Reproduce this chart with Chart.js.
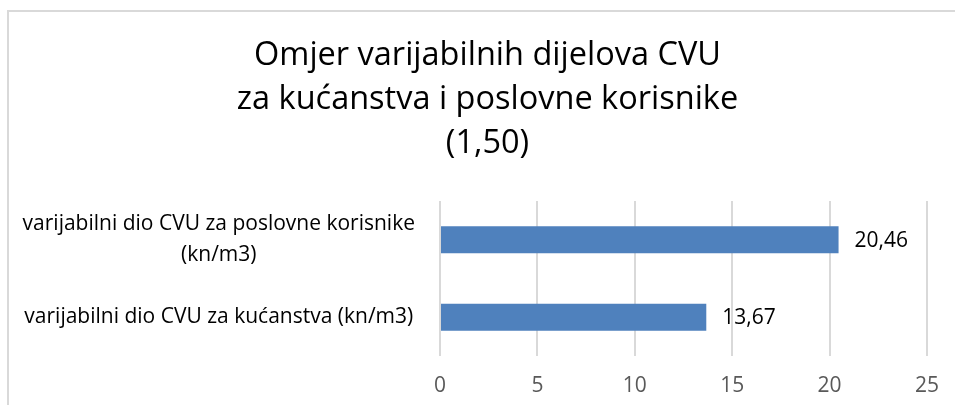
<!DOCTYPE html>
<html>
<head>
<meta charset="utf-8">
<script src="https://cdn.jsdelivr.net/npm/chart.js@4/dist/chart.umd.min.js"></script>
<style>
  html, body { margin: 0; padding: 0; background: #ffffff; overflow: hidden; }
  #wrap { position: relative; width: 955px; height: 405px; }
  #frame { position: absolute; left: 7px; top: 10px; width: 1000px; height: 500px;
           border: 2px solid #d9d9d9; box-sizing: border-box; }
  canvas { position: absolute; left: 0; top: 0; }
</style>
</head>
<body>
<div id="wrap">
  <div id="frame"></div>
  <canvas id="c" width="955" height="405"></canvas>
</div>
<script>
// ---- data ----
const titleLines = ["Omjer varijabilnih dijelova CVU", "za kućanstva i poslovne korisnike", "(1,50)"];
const categories = [
  ["varijabilni dio CVU za poslovne korisnike", "(kn/m3)"],
  "varijabilni dio CVU za kućanstva (kn/m3)"
];
const values = [20.46, 13.67];
const xMin = 0, xMax = 25, xStep = 5;

const FONT = "'Open Sans', 'Noto Sans', sans-serif";

const dataLabelPlugin = {
  id: 'dataLabels',
  afterDatasetsDraw(chart) {
    const ctx = chart.ctx;
    const meta = chart.getDatasetMeta(0);
    ctx.save();
    ctx.font = "21px " + FONT;
    ctx.fillStyle = '#000000';
    ctx.textAlign = 'left';
    ctx.textBaseline = 'middle';
    meta.data.forEach((bar, i) => {
      const v = chart.data.datasets[0].data[i];
      ctx.fillText(v.toFixed(2).replace('.', ','), bar.x + 16, bar.y + 1);
    });
    ctx.restore();
  }
};

new Chart(document.getElementById('c'), {
  type: 'bar',
  data: {
    labels: categories,
    datasets: [{
      data: values,
      backgroundColor: '#4f81bd',
      borderWidth: 0,
      barPercentage: 0.35,
      categoryPercentage: 1.0
    }]
  },
  options: {
    indexAxis: 'y',
    responsive: false,
    animation: false,
    devicePixelRatio: 1,
    layout: { padding: { left: 20, right: 0, top: 0, bottom: 0 } },
    plugins: {
      legend: { display: false },
      tooltip: { enabled: false },
      title: {
        display: true,
        text: titleLines,
        color: '#000000',
        font: { family: FONT, size: 32.5, weight: 'normal', lineHeight: 44 / 32.5 },
        padding: { top: 33.5, bottom: 35.5 }
      }
    },
    scales: {
      x: {
        min: xMin, max: xMax,
        ticks: {
          stepSize: xStep,
          color: '#595959',
          font: { family: FONT, size: 21 },
          padding: 17,
          callback: (v) => String(v)
        },
        grid: { color: '#d9d9d9', lineWidth: 2, drawTicks: false },
        border: { display: false },
        afterFit: (s) => { s.height = 49; s.paddingRight = 28; }
      },
      y: {
        ticks: {
          color: '#000000',
          font: { family: FONT, size: 21, lineHeight: 31 / 21 },
          crossAlign: 'center',
          padding: 25
        },
        grid: { display: false, drawTicks: false },
        border: { display: false },
        afterFit: (s) => { s.width = 420; s.paddingTop = 0; s.paddingBottom = 0; }
      }
    }
  },
  plugins: [dataLabelPlugin]
});
</script>
</body>
</html>
